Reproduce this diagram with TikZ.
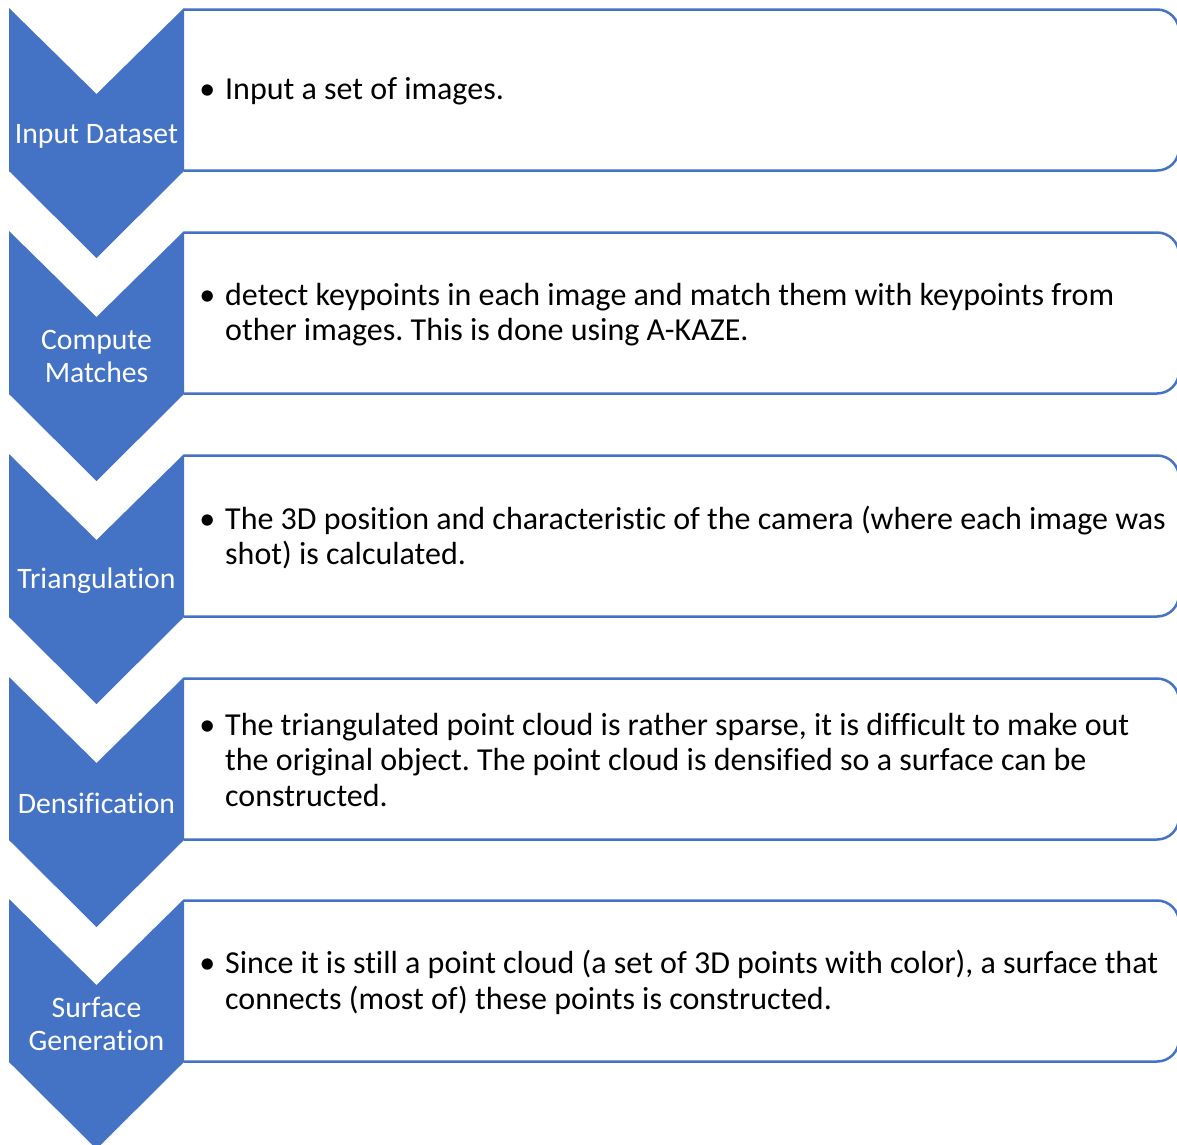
\documentclass[tikz,border=0pt]{standalone}
\usepackage{fontspec}
\setmainfont{Carlito}[Ligatures=CommonOff]
\frenchspacing
\definecolor{accent}{HTML}{4472C4}
\tikzset{
  chev/.style={fill=accent, draw=none},
  bodybox/.style={draw=accent, line width=2.5pt, rounded corners=22pt},
  chevlabel/.style={text=white, font=\fontsize{29.7}{33}\selectfont, align=center, inner sep=0pt},
  bodytext/.style={text=black, font=\fontsize{32}{35.5}\selectfont, align=left, inner sep=0pt, anchor=west},
}
\newcommand{\mybul}{\llap{\textbullet\hspace{10pt}}}
\begin{document}
\begin{tikzpicture}[x=1pt,y=-1pt]
\useasboundingbox (0,0) rectangle (1177,1144);
\foreach \T in {8,231,454,677,899}{
  \fill[chev] (9,\T) -- (96.5,\T+86) -- (184,\T) -- (184,\T+163) -- (96.5,\T+250) -- (9,\T+163) -- cycle;
  \draw[bodybox] (184,\T+1.5) -- (1179,\T+1.5) -- (1179,\T+162.5) -- (184,\T+162.5);
}
\node[chevlabel] (l1) at (96.5,136) {Input Dataset};
\node[chevlabel] (l2) at (96.5,356) {Compute\\Matches};
\node[chevlabel] (l3) at (96.5,581) {Triangulation};
\node[chevlabel] (l4) at (96.5,803) {Densification};
\node[chevlabel] (l5) at (96.5,1024) {Surface\\Generation};
\node[bodytext] (t1) at (225,91.5) {\mybul Input a set of images.};
\node[bodytext] (t2) at (225,314.5) {\mybul detect keypoints in each image and match them with keypoints from\\other images. This is done using A-KAZE.};
\node[bodytext] (t3) at (225,537.5) {\mybul The 3D position and characteristic of the camera (where each image was\\shot) is calculated.};
\node[bodytext] (t4) at (225,759.5) {\mybul The triangulated point cloud is rather sparse, it is difficult to make out\\the original object. The point cloud is densified so a surface can be\\constructed.};
\node[bodytext] (t5) at (225,982.5) {\mybul Since it is still a point cloud (a set of 3D points with color), a surface that\\connects (most of) these points is constructed.};
\end{tikzpicture}
\end{document}
